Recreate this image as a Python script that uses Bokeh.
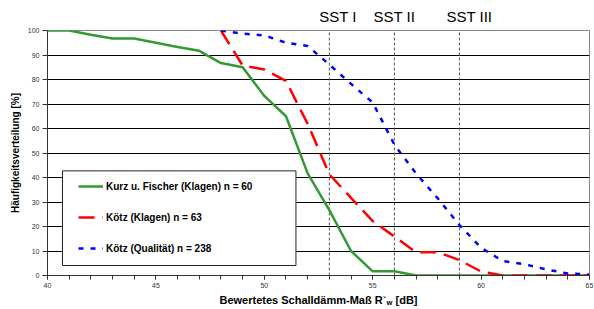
from bokeh.plotting import figure
from bokeh.models import (Range1d, SingleIntervalTicker, FixedTicker, Legend,
                          LegendItem, BoxAnnotation, LinearAxis)
from bokeh.embed import file_html
from bokeh.resources import INLINE

# ---- data ----
db_kurz = list(range(40, 66))
kurz = [100, 100, 98.3, 96.7, 96.7, 95.0, 93.3, 91.7, 86.7, 85.0, 73.3, 65.0,
        41.7, 26.7, 10.0, 1.7, 1.7, 0, 0, 0, 0, 0, 0, 0, 0, 0]

db_koetz = list(range(48, 66))
koetz_klagen = [100, 85.7, 84.1, 79.4, 61.9, 41.3, 31.7, 22.2, 15.9, 9.5, 9.5,
                6.3, 1.6, 0, 0, 0, 0, 0]
koetz_qual = [100, 98.7, 98.0, 95.0, 93.7, 86.1, 78.2, 70.6, 53.4, 41.6, 31.5,
              20.6, 11.3, 5.9, 4.6, 2.5, 0.8, 0.4]

sst_levels = [53, 56, 59]
sst_labels = ["SST I", "SST II", "SST III"]

series_names = ["Kurz u. Fischer (Klagen) n = 60", "Kötz (Klagen) n = 63",
                "Kötz (Qualität) n = 238"]

FONT = "Liberation Sans"

p = figure(width=594, height=309, x_range=Range1d(40, 65), y_range=Range1d(0, 100),
           output_backend="svg", toolbar_location=None,
           min_border_left=47, min_border_right=5, min_border_top=30,
           min_border_bottom=33)
p.outline_line_color = "#888888"
p.outline_line_width = 1
p.background_fill_color = "white"
p.border_fill_color = "white"

# axes
p.xaxis.ticker = SingleIntervalTicker(interval=5, num_minor_ticks=5)
p.xaxis.major_tick_out = 4
p.xaxis.major_tick_in = 0
p.xaxis.minor_tick_out = 4
p.xaxis.minor_tick_in = 0
p.yaxis.ticker = SingleIntervalTicker(interval=10, num_minor_ticks=0)
p.yaxis.major_tick_out = 5
p.yaxis.major_tick_in = 0
p.yaxis.minor_tick_line_color = None
p.xaxis.minor_tick_line_color = "#333333"
for ax in (p.xaxis, p.yaxis):
    ax.axis_line_color = "#333333"
    ax.major_tick_line_color = "#333333"
    ax.major_label_text_font = FONT
    ax.major_label_text_font_size = "7px"
    ax.major_label_text_color = "#333333"
    ax.major_label_standoff = 3
p.yaxis.axis_label = "Häufigkeitsverteilung [%]"
p.yaxis.axis_label_text_font = FONT
p.yaxis.axis_label_text_font_size = "10px"
p.yaxis.axis_label_text_font_style = "bold"
p.yaxis.axis_label_text_color = "black"
p.yaxis.axis_label_standoff = 4

NB = "\u00a0"
p.xaxis.axis_label = "Bewertetes Schalldämm-Maß R`" + NB * 3 + "[dB]"
p.xaxis.axis_label_text_font = FONT
p.xaxis.axis_label_text_font_size = "11px"
p.xaxis.axis_label_text_font_style = "bold"
p.xaxis.axis_label_text_color = "black"
p.xaxis.axis_label_standoff = 3

# subscript "w" of the x axis label
sub_pos = 55.77
sub_axis = LinearAxis(ticker=FixedTicker(ticks=[sub_pos]),
                      major_label_overrides={sub_pos: "w"},
                      axis_line_color=None, major_tick_line_color=None,
                      minor_tick_line_color=None, major_tick_out=0,
                      major_tick_in=0, major_label_standoff=-11,
                      major_label_text_font=FONT, major_label_text_font_size="7.5px",
                      major_label_text_font_style="bold",
                      major_label_text_color="black")
p.add_layout(sub_axis, "below")

p.xgrid.visible = False
p.ygrid.ticker = FixedTicker(ticks=list(range(0, 101, 10)))
p.ygrid.grid_line_color = "black"
p.ygrid.grid_line_width = 1

# SST reference lines
p.segment(x0=sst_levels, y0=[0] * len(sst_levels), x1=sst_levels,
          y1=[100] * len(sst_levels), line_color="#555555", line_width=1,
          line_dash="3 2")
sst_label_pos = [53.4, 56.0, 59.46]
sst_axis = LinearAxis(ticker=FixedTicker(ticks=sst_label_pos),
                      major_label_overrides=dict(zip(sst_label_pos, sst_labels)),
                      axis_line_color=None, major_tick_line_color=None,
                      minor_tick_line_color=None, major_tick_out=0,
                      major_tick_in=0, major_label_standoff=6,
                      major_label_text_font=FONT, major_label_text_font_size="15px",
                      major_label_text_color="black")
p.add_layout(sst_axis, "above")

# series
r1 = p.line(db_kurz, kurz, line_color="#339933", line_width=2.5)
r2 = p.line(db_koetz, koetz_klagen, line_color="#FF0000", line_width=2.5,
            line_dash="16 8")
r3 = p.line(db_koetz, koetz_qual, line_color="#0000FF", line_width=2.5,
            line_dash="5 7")

# legend box
box = BoxAnnotation(left=40.69, right=51.46, bottom=4.07, top=42.7,
                    fill_color="white", fill_alpha=1.0, line_color="#222222",
                    line_width=1, line_alpha=1.0)
p.add_layout(box)

legend = Legend(items=[LegendItem(label=series_names[0], renderers=[r1]),
                       LegendItem(label=series_names[1], renderers=[r2]),
                       LegendItem(label=series_names[2], renderers=[r3])],
                location=(31, 17), padding=0, spacing=11, glyph_width=25,
                glyph_height=20, label_height=20, label_standoff=3,
                label_text_font=FONT, label_text_font_size="10px",
                label_text_font_style="bold", label_text_color="black",
                border_line_alpha=0, background_fill_alpha=0)
p.add_layout(legend, "center")

open("out.html", "w").write(file_html(p, INLINE))
